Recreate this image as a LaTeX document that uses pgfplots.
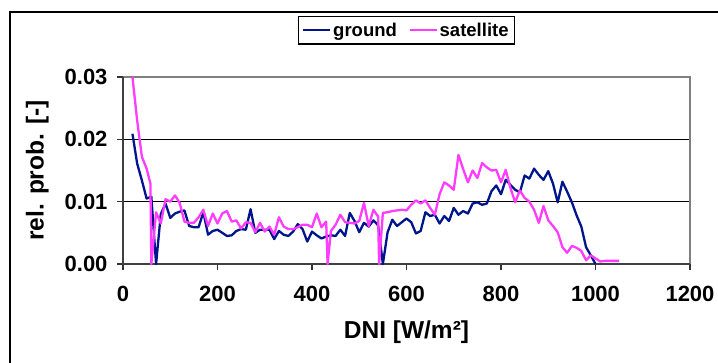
\documentclass[border=0pt]{standalone}
\usepackage{pgfplots}
\pgfplotsset{compat=1.18}
\usepackage{pgfplotstable}
\usepackage{fontspec}
\setmainfont{Liberation Sans}
\definecolor{gnd}{RGB}{0,20,140}
\definecolor{sat}{RGB}{255,60,255}
\definecolor{bord}{RGB}{128,128,128}

\pgfplotstableread{
x y
20 0.0209
30 0.0161
40 0.0134
50 0.0105
60 0.0108
70 0
80 0.0080
90 0.0097
100 0.0074
110 0.0081
120 0.0084
130 0.0086
140 0.0061
150 0.0059
160 0.0059
170 0.0083
180 0.0047
190 0.0053
200 0.0055
210 0.0050
220 0.0045
230 0.0046
240 0.0053
250 0.0056
260 0.0055
270 0.0088
280 0.0050
290 0.0055
300 0.0055
310 0.0055
320 0.0040
330 0.0053
340 0.0047
350 0.0045
360 0.0052
370 0.0064
380 0.0056
390 0.0036
400 0.0052
410 0.0046
420 0.0041
430 0.0044
440 0.0046
450 0.0045
460 0.0055
470 0.0045
480 0.0082
490 0.0069
500 0.0051
510 0.0066
520 0.0060
530 0.0070
540 0.0062
550 0
560 0.0051
570 0.0071
580 0.0061
590 0.0067
600 0.0073
610 0.0067
620 0.0049
630 0.0053
640 0.0083
650 0.0077
660 0.0079
670 0.0065
680 0.0077
690 0.0069
700 0.0090
710 0.0079
720 0.0085
730 0.0081
740 0.0097
750 0.0099
760 0.0095
770 0.0097
780 0.0117
790 0.0126
800 0.0112
810 0.0135
820 0.0127
830 0.0119
840 0.0115
850 0.0142
860 0.0137
870 0.0153
880 0.0143
890 0.0135
900 0.0149
910 0.0129
920 0.0099
930 0.0132
940 0.0116
950 0.0099
960 0.0078
970 0.0060
980 0.0027
990 0.0014
1000 0
}\ground

\pgfplotstableread{
x y
20 0.0300
30 0.0230
40 0.0172
50 0.0153
58 0.0129
60 0
70 0.0083
80 0.0065
90 0.0104
100 0.0100
110 0.0110
120 0.0098
130 0.0068
140 0.0066
150 0.0066
160 0.0075
170 0.0087
180 0.0061
190 0.0081
200 0.0065
210 0.0081
220 0.0085
230 0.0068
240 0.0070
250 0.0057
260 0.0067
270 0.0066
280 0.0051
290 0.0066
300 0.0052
310 0.0060
320 0.0047
330 0.0075
340 0.0060
350 0.0056
360 0.0056
370 0.0059
380 0.0063
390 0.0063
400 0.0059
410 0.0081
420 0.0059
430 0.0068
433 0
440 0.0053
450 0.0063
460 0.0079
470 0.0067
480 0.0066
490 0.0065
500 0.0069
510 0.0098
520 0.0061
530 0.0087
540 0.0076
542 0
550 0.0082
560 0.0083
570 0.0085
580 0.0086
590 0.0087
600 0.0086
610 0.0095
620 0.0102
630 0.0097
640 0.0102
650 0.0090
660 0.0079
670 0.0112
680 0.0131
690 0.0126
700 0.0119
710 0.0175
720 0.0152
730 0.0131
740 0.0150
750 0.0138
760 0.0162
770 0.0155
780 0.0150
790 0.0151
800 0.0131
810 0.0151
820 0.0122
830 0.0099
840 0.0118
850 0.0106
860 0.0100
870 0.0087
880 0.0066
890 0.0093
900 0.0070
910 0.0061
920 0.0051
930 0.0027
940 0.0018
950 0.0029
960 0.0026
970 0.0021
980 0.0006
990 0.0014
1000 0.0009
1010 0.0004
1020 0.0005
1030 0.0005
1040 0.0005
1050 0.0005
}\satellite

\begin{document}
\begin{tikzpicture}
\path[use as bounding box] (0bp,0bp) rectangle (718bp,363bp);
\draw[black, line width=1.3bp] (10bp,-10bp) -- (10bp,351bp) -- (740bp,351bp);
\begin{axis}[
  at={(123bp,99bp)}, anchor=south west,
  scale only axis, width=567bp, height=187bp,
  xmin=0, xmax=1200, ymin=0, ymax=0.03,
  clip=false,
  scaled y ticks=false, scaled x ticks=false,
  axis line style={draw=none},
  xtick={0,200,400,600,800,1000,1200},
  xticklabels={0,200,400,600,800,1000,1200},
  ytick={0,0.01,0.02,0.03},
  yticklabels={0.00,0.01,0.02,0.03},
  xtick pos=left, ytick pos=left,
  tick align=outside,
  major tick length=6bp,
  tick style={black!80, line width=1.2bp},
  ticklabel style={font=\fontsize{22bp}{25bp}\selectfont\bfseries},
  yticklabel style={xshift=-6bp},
  xticklabel style={yshift=-13bp},
  xlabel={DNI [W/m²]},
  ylabel={rel. prob. [-]},
  label style={font=\fontsize{24.5bp}{28bp}\selectfont\bfseries},
  xlabel style={yshift=-12bp},
  ylabel style={yshift=9bp},
  legend columns=2,
  legend style={at={(0.5,1.251)}, anchor=center, draw=black, line width=1.1bp,
    font=\fontsize{18.5bp}{21bp}\selectfont\bfseries,
    inner xsep=4bp, inner ysep=4.5bp,
    /tikz/every even column/.append style={column sep=10bp}},
  legend image code/.code={\draw[#1, line width=1.8bp] (0bp,0bp) -- (27bp,0bp);},
]
\draw[black, line width=1.2bp] (axis cs:0,0.01) -- (axis cs:1200,0.01);
\draw[black, line width=1.2bp] (axis cs:0,0.02) -- (axis cs:1200,0.02);
\draw[bord, line width=1.4bp] (axis cs:0,0.03) -- (axis cs:1200,0.03) -- (axis cs:1200,0);
\draw[black!75, line width=1.5bp] (axis cs:0,0.03) -- (axis cs:0,0) -- (axis cs:1200,0);
\addplot[gnd, line width=2.3bp, line join=round] table[x=x,y=y] {\ground};
\addlegendentry{ground}
\addplot[sat, line width=2.3bp, line join=round] table[x=x,y=y] {\satellite};
\addlegendentry{satellite}
\end{axis}
\end{tikzpicture}
\end{document}
